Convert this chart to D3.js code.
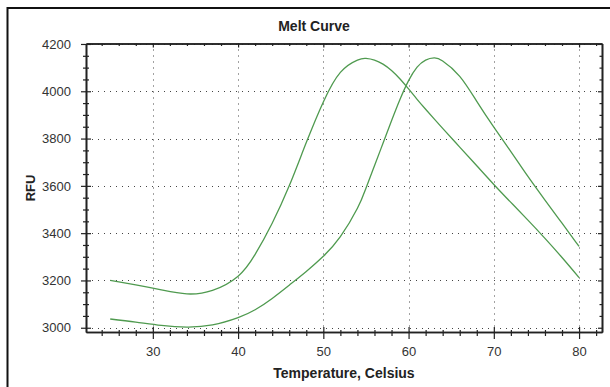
<!DOCTYPE html>
<html>
<head>
<meta charset="utf-8">
<script src="https://cdn.jsdelivr.net/npm/d3@7.9.0/dist/d3.min.js"></script>
<style>
  body { margin: 0; background: #fff; }
  svg { display: block; font-family: "Liberation Sans", Arial, sans-serif; }
</style>
</head>
<body>
<svg id="chart" width="610" height="387"></svg>
<script>
// melt curve readings, two wells
const temps = [25, 28, 31, 34, 37, 40, 42, 44, 46, 48, 50, 52, 54, 55, 56, 57, 58, 59, 60, 61, 62, 63, 64, 66, 68, 70, 72, 74, 76, 78, 80];
const wellA = [3200, 3181, 3160, 3143, 3158, 3218, 3310, 3442, 3600, 3783, 3955, 4080, 4132, 4139, 4132, 4115, 4088, 4052, 4010, 3966, 3924, 3883, 3843, 3764, 3685, 3606, 3530, 3455, 3378, 3297, 3212];
const wellB = [3037, 3024, 3010, 3003, 3012, 3043, 3076, 3124, 3180, 3238, 3302, 3385, 3505, 3590, 3685, 3780, 3875, 3966, 4045, 4102, 4132, 4141, 4128, 4063, 3957, 3848, 3745, 3640, 3540, 3442, 3344];

const xTicks = [30, 40, 50, 60, 70, 80];
const yTicks = [3000, 3200, 3400, 3600, 3800, 4000, 4200];
const xMinor = d3.range(24, 83, 2).filter(v => !xTicks.includes(v));
const yMinor = d3.range(3000, 4201, 50).filter(v => !yTicks.includes(v));

const plot = { left: 86, right: 602, top: 43.5, bottom: 332 };
const svg = d3.select('#chart');

const x = d3.scaleLinear().domain([22.16, 82.69]).range([plot.left, plot.right]);
const y = d3.scaleLinear().domain([2982, 4202]).range([plot.bottom, plot.top]);

// outer frame
svg.append('path')
  .attr('d', 'M7.5,390 L7.5,8 L615,8')
  .attr('fill', 'none')
  .attr('stroke', '#111')
  .attr('stroke-width', 2);

// grid
const grid = svg.append('g')
  .attr('stroke', '#444')
  .attr('stroke-width', 1)
  .attr('stroke-dasharray', '1 5');
xTicks.forEach(t => {
  grid.append('line')
    .attr('x1', Math.round(x(t)) + 0.5).attr('x2', Math.round(x(t)) + 0.5)
    .attr('y1', plot.top).attr('y2', plot.bottom);
});
yTicks.forEach(t => {
  grid.append('line')
    .attr('x1', plot.left).attr('x2', plot.right)
    .attr('y1', Math.round(y(t)) + 0.5).attr('y2', Math.round(y(t)) + 0.5);
});

// curves
const line = d3.line()
  .x((d, i) => x(temps[i]))
  .y(d => y(d))
  .curve(d3.curveNatural);

[wellA, wellB].forEach(s => {
  svg.append('path')
    .attr('d', line(s))
    .attr('fill', 'none')
    .attr('stroke', '#4f9a4f')
    .attr('stroke-width', 1.3);
});

function styleAxis(g) {
  g.select('.domain').attr('stroke', '#222').attr('stroke-width', 1.6);
  g.selectAll('.tick line').attr('stroke', '#222').attr('stroke-width', 1.2);
  g.selectAll('.tick text').attr('fill', '#333').attr('font-size', 13)
    .attr('font-family', '"Liberation Sans", Arial, sans-serif');
}

// bottom axis, ticks cross the line
const xMinorAxis = svg.append('g').attr('transform', `translate(0,${plot.bottom})`)
  .call(d3.axisBottom(x).tickValues(xMinor).tickSize(4).tickFormat('').tickSizeOuter(0));
xMinorAxis.selectAll('.tick line').attr('y1', -2);
styleAxis(xMinorAxis);
const xAxis = svg.append('g').attr('transform', `translate(0,${plot.bottom})`)
  .call(d3.axisBottom(x).tickValues(xTicks).tickSize(7).tickPadding(8).tickSizeOuter(0).tickFormat(d3.format('d')));
xAxis.selectAll('.tick line').attr('y1', -5);
styleAxis(xAxis);

// left axis
const yMinorAxis = svg.append('g').attr('transform', `translate(${plot.left},0)`)
  .call(d3.axisLeft(y).tickValues(yMinor).tickSize(3).tickFormat('').tickSizeOuter(0));
yMinorAxis.selectAll('.tick line').attr('x1', 3);
styleAxis(yMinorAxis);
const yAxis = svg.append('g').attr('transform', `translate(${plot.left},0)`)
  .call(d3.axisLeft(y).tickValues(yTicks).tickSize(5).tickPadding(10).tickSizeOuter(0).tickFormat(d3.format('d')));
yAxis.selectAll('.tick line').attr('x1', 5);
styleAxis(yAxis);

// top and right borders with inward ticks
const topAxis = svg.append('g').attr('transform', `translate(0,${plot.top})`)
  .call(d3.axisTop(x).tickValues(xMinor).tickSize(-2.5).tickFormat('').tickSizeOuter(0));
styleAxis(topAxis);
const topMajor = svg.append('g').attr('transform', `translate(0,${plot.top})`)
  .call(d3.axisTop(x).tickValues(xTicks).tickSize(-4).tickFormat('').tickSizeOuter(0));
styleAxis(topMajor);
const rightAxis = svg.append('g').attr('transform', `translate(${plot.right},0)`)
  .call(d3.axisRight(y).tickValues(yMinor).tickSize(-2.5).tickFormat('').tickSizeOuter(0));
styleAxis(rightAxis);
const rightMajor = svg.append('g').attr('transform', `translate(${plot.right},0)`)
  .call(d3.axisRight(y).tickValues(yTicks).tickSize(-4).tickFormat('').tickSizeOuter(0));
styleAxis(rightMajor);

// titles
svg.append('text')
  .attr('x', 314).attr('y', 31)
  .attr('text-anchor', 'middle')
  .attr('font-size', 14).attr('font-weight', 'bold')
  .attr('fill', '#222')
  .text('Melt Curve');

svg.append('text')
  .attr('x', 344).attr('y', 378)
  .attr('text-anchor', 'middle')
  .attr('font-size', 14).attr('font-weight', 'bold')
  .attr('fill', '#222')
  .text('Temperature, Celsius');

svg.append('text')
  .attr('transform', 'translate(35,188) rotate(-90)')
  .attr('text-anchor', 'middle')
  .attr('font-size', 13).attr('font-weight', 'bold')
  .attr('fill', '#222')
  .text('RFU');
</script>
</body>
</html>
